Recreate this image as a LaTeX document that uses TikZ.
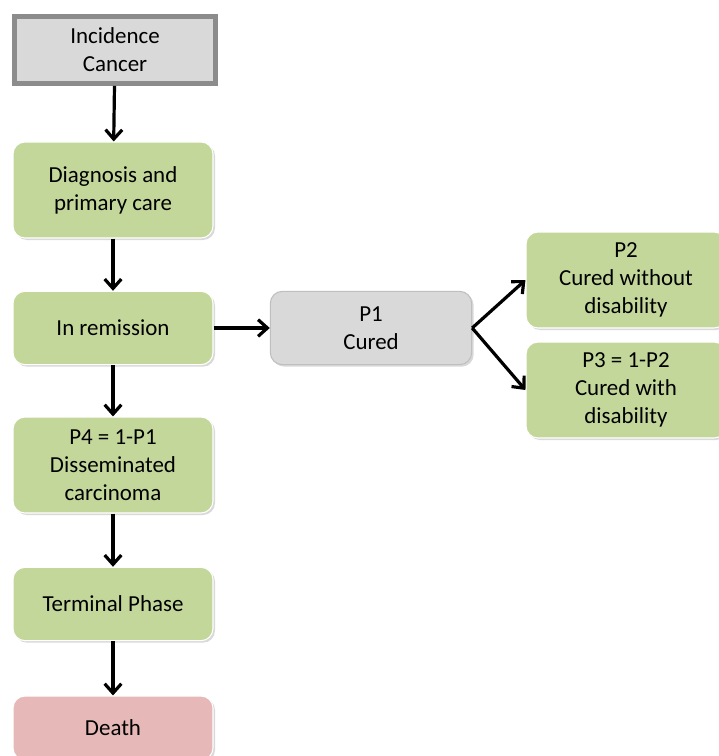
\documentclass[tikz,border=0pt]{standalone}
\usepackage{fontspec}
\setmainfont{Carlito}
\usetikzlibrary{arrows.meta,shadows}
\definecolor{CFgreen}{RGB}{196,215,155}
\definecolor{CFgray}{RGB}{217,217,217}
\definecolor{CFedge}{RGB}{140,140,140}
\definecolor{CFlightedge}{RGB}{191,191,191}
\definecolor{CFpink}{RGB}{230,185,184}
\tikzset{
  state/.style={rounded corners=9pt,draw=white,line width=0.8pt,fill=CFgreen,
                text=black,align=center,inner sep=0pt,font=\fontsize{17.2}{21}\selectfont,
                minimum width=150pt,minimum height=55pt,
                drop shadow={shadow xshift=1.5pt,shadow yshift=-1.5pt,opacity=0.3}},
  tall/.style={minimum height=72pt},
  entry/.style={state,rounded corners=0pt,draw=CFedge,line width=3.75pt,fill=CFgray,
                minimum width=151pt,minimum height=50pt},
  cured/.style={state,draw=CFlightedge,fill=CFgray,minimum width=151pt},
  dead/.style={state,fill=CFpink,minimum height=48pt},
  fl/.style={-{Straight Barb[length=7pt,width=12.5pt]},line width=2.4pt,draw=black}
}
\begin{document}
\begin{tikzpicture}[x=0.75pt,y=-0.75pt]
  \useasboundingbox (0,0) rectangle (718,756);
  \node[entry] (inc) at (115,50) {Incidence\\Cancer};
  \node[state,tall] (diag) at (113,190) {Diagnosis and\\primary care};
  \node[state] (rem) at (113,328) {In remission};
  \node[state,tall] (dis) at (113,465) {P4 = 1-P1\\Disseminated\\carcinoma};
  \node[state] (term) at (113,604) {Terminal Phase};
  \node[dead] (death) at (113,728) {Death};
  \node[cured] (cure) at (371,328) {P1\\Cured};
  \node[state,tall] (nodis) at (626,280) {P2\\Cured without\\disability};
  \node[state,tall] (withdis) at (626,390) {P3 = 1-P2\\Cured with\\disability};
  \draw[fl] (inc) -- (diag);
  \draw[fl] (diag) -- (rem);
  \draw[fl] (rem) -- (dis);
  \draw[fl] (dis) -- (term);
  \draw[fl] (term) -- (death);
  \draw[fl] (rem) -- (cure);
  \draw[fl] (cure.east) -- (nodis.west);
  \draw[fl] (cure.east) -- (withdis.west);
\end{tikzpicture}
\end{document}
